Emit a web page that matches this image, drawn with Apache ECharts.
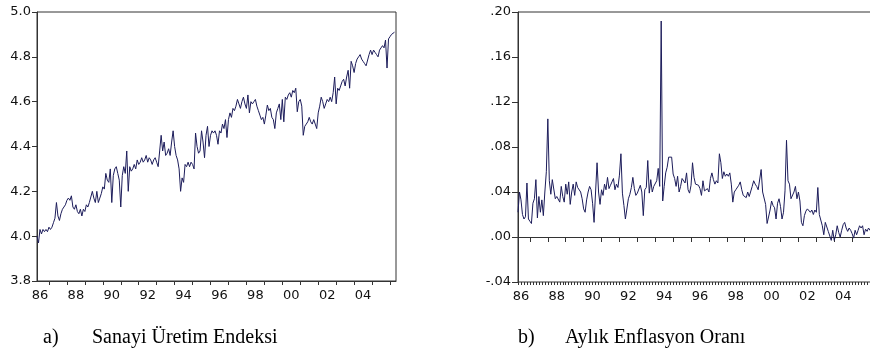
<!DOCTYPE html>
<html>
<head>
<meta charset="utf-8">
<script src="https://cdn.jsdelivr.net/npm/echarts@6.0.0/dist/echarts.min.js"></script>
<style>
  html, body { margin: 0; padding: 0; background: #fff; overflow: hidden; }
  #chart { width: 880px; height: 354px; }
</style>
</head>
<body>
<div id="chart"></div>
<script>
// aylik gozlemler (1986 - 2005), soldan saga
var yearLabels = ['86', '88', '90', '92', '94', '96', '98', '00', '02', '04'];

// a) Sanayi Uretim Endeksi (log)
var uretim = [
  4.00, 3.97, 4.03, 4.01, 4.03, 4.02, 4.03, 4.02, 4.04, 4.03, 4.04, 4.06,
  4.08, 4.15, 4.09, 4.07, 4.10, 4.12, 4.13, 4.14, 4.16, 4.17, 4.16, 4.18,
  4.13, 4.12, 4.14, 4.11, 4.10, 4.12, 4.09, 4.12, 4.11, 4.14, 4.13, 4.15,
  4.15, 4.20, 4.17, 4.15, 4.20, 4.15, 4.17, 4.19, 4.22, 4.21, 4.28, 4.25,
  4.24, 4.30, 4.15, 4.27, 4.30, 4.31, 4.28, 4.25, 4.13, 4.27, 4.31, 4.28,
  4.38, 4.20, 4.31, 4.29, 4.30, 4.32, 4.30, 4.34, 4.32, 4.33, 4.35, 4.33,
  4.34, 4.36, 4.33, 4.35, 4.34, 4.32, 4.34, 4.35, 4.33, 4.31, 4.38, 4.45,
  4.38, 4.42, 4.36, 4.37, 4.39, 4.36, 4.42, 4.47, 4.40, 4.36, 4.34, 4.30,
  4.20, 4.26, 4.24, 4.32, 4.31, 4.33, 4.31, 4.33, 4.32, 4.30, 4.46, 4.40,
  4.37, 4.38, 4.47, 4.42, 4.35, 4.45, 4.49, 4.40, 4.45, 4.47, 4.46, 4.47,
  4.45, 4.41, 4.47, 4.46, 4.50, 4.48, 4.52, 4.44, 4.52, 4.55, 4.53, 4.57,
  4.56, 4.58, 4.61, 4.59, 4.57, 4.60, 4.62, 4.59, 4.57, 4.63, 4.55, 4.60,
  4.59, 4.60, 4.61, 4.58, 4.56, 4.54, 4.52, 4.53, 4.50, 4.54, 4.585, 4.56,
  4.57, 4.53, 4.52, 4.48, 4.55, 4.57, 4.59, 4.52, 4.61, 4.51, 4.62, 4.61,
  4.63, 4.64, 4.62, 4.65, 4.64, 4.66, 4.555, 4.60, 4.61, 4.58, 4.45, 4.49,
  4.50, 4.51, 4.53, 4.51, 4.50, 4.52, 4.50, 4.48, 4.55, 4.58, 4.62, 4.60,
  4.57, 4.59, 4.61, 4.60, 4.62, 4.60, 4.64, 4.71, 4.59, 4.66, 4.65, 4.67,
  4.69, 4.70, 4.67, 4.71, 4.74, 4.66, 4.78, 4.76, 4.73, 4.77, 4.79, 4.80,
  4.81, 4.79, 4.78, 4.77, 4.76, 4.755, 4.81, 4.83, 4.81, 4.83, 4.82, 4.81,
  4.80, 4.83, 4.84, 4.85, 4.84, 4.875, 4.75, 4.88, 4.89, 4.90, 4.905, 4.91
];

// b) Aylik Enflasyon Orani
var enflasyon = [
  .022, .040, .033, .020, .016, .018, .048, .016, .014, .012, .030, .034,
  .051, .017, .036, .022, .033, .019, .040, .058, .105, .050, .038, .051,
  .050, .034, .036, .035, .031, .045, .036, .031, .047, .038, .049, .029,
  .040, .047, .037, .049, .044, .043, .040, .034, .025, .022, .033, .040,
  .045, .042, .030, .013, .040, .066, .040, .029, .042, .037, .047, .042,
  .053, .043, .046, .049, .052, .042, .047, .044, .055, .074, .039, .028,
  .016, .017, .034, .038, .044, .053, .043, .037, .039, .040, .046, .040,
  .019, .042, .044, .068, .039, .051, .040, .045, .046, .050, .061, .045,
  .192, .032, .045, .057, .062, .071, .071, .071, .056, .052, .045, .054,
  .040, .045, .052, .053, .048, .057, .042, .039, .046, .066, .053, .047,
  .046, .046, .043, .037, .050, .041, .042, .043, .040, .052, .057, .051,
  .047, .050, .048, .074, .066, .052, .058, .054, .056, .054, .057, .047,
  .031, .040, .042, .042, .046, .049, .042, .037, .037, .035, .040, .036,
  .037, .045, .050, .047, .045, .042, .041, .060, .040, .039, .029, .012,
  .011, .024, .032, .028, .026, .016, .030, .034, .027, .016, .022, .041,
  .086, .050, .047, .034, .034, .040, .045, .034, .040, .032, .013, .010,
  .019, .023, .025, .025, .022, .024, .020, .024, .022, .044, .020, .021,
  .010, .002, .013, .012, .005, .006, -.003, .006, -.003, .002, .010, .004,
  .000, .006, .011, .013, .008, .005, .008, .006, .003, -.001, .006, .002,
  .006, .010, .008, .010, .002, .007, .005, .008, .006, .009, .007, .010
];

var nMonths = 240;
var lineColor = '#1c1c5a';
var axisColor = '#333';
var axisFont = '"DejaVu Sans", Arial, sans-serif';
var titleFont = '"Times New Roman", "Liberation Serif", serif';

// yil siniri tikleri (ay indeksi), etiketler yil ortasinda
var yearTicks = [];
for (var k = 0; k * 12 + 8 <= nMonths; k++) yearTicks.push(k * 12 + 8);
var labelPos = yearLabels.map(function (s, j) { return 2 + 24 * j; });
var minorTicks = [];
for (var m = 0; m <= nMonths; m += 2) minorTicks.push(m);

function toPairs(arr) {
  return arr.map(function (v, i) { return [i, v]; });
}
function yearFmt(v) {
  return yearLabels[Math.round((v - 2) / 24)] || '';
}
function dotFmt(v) {
  var s = Math.abs(v).toFixed(2).replace(/^0/, '');
  return (v < -1e-9 ? '-' : '') + s;
}

function xAxisBase(grid, tickLen) {
  return {
    gridIndex: grid, type: 'value', position: 'bottom', min: 0, max: nMonths,
    axisLine: { show: true, lineStyle: { color: axisColor, width: 1 } },
    axisTick: { show: true, customValues: yearTicks, length: tickLen, lineStyle: { color: axisColor } },
    axisLabel: { customValues: labelPos, formatter: yearFmt, margin: 8,
      fontFamily: axisFont, fontSize: 13, color: '#111' },
    splitLine: { show: false }
  };
}

var myChart = echarts.init(document.getElementById('chart'), null, { renderer: 'canvas' });

var titleStyle = { fontFamily: titleFont, fontSize: 20, fontWeight: 'normal', color: '#000' };

var option = {
  animation: false,
  title: [
    { text: 'a)', left: 43, top: 328, padding: 0, textStyle: titleStyle },
    { text: 'Sanayi Üretim Endeksi', left: 92, top: 328, padding: 0, textStyle: titleStyle },
    { text: 'b)', left: 518, top: 328, padding: 0, textStyle: titleStyle },
    { text: 'Aylık Enflasyon Oranı', left: 565, top: 328, padding: 0, textStyle: titleStyle }
  ],
  grid: [
    { left: 37, top: 12, width: 359, height: 269, show: true, borderColor: axisColor, borderWidth: 1 },
    { left: 518, top: 12, width: 358, height: 270, show: true, borderColor: axisColor, borderWidth: 1 }
  ],
  xAxis: [
    xAxisBase(0, 4),
    xAxisBase(1, 5),
    {
      // aylik kucuk tikler
      gridIndex: 1, type: 'value', position: 'bottom', offset: 0, min: 0, max: nMonths,
      axisLine: { show: false },
      axisTick: { show: true, customValues: minorTicks, length: 3, lineStyle: { color: axisColor } },
      axisLabel: { show: false },
      splitLine: { show: false }
    }
  ],
  yAxis: [
    {
      gridIndex: 0, type: 'value', min: 3.8, max: 5.0, interval: 0.2,
      axisLine: { show: true, lineStyle: { color: axisColor } },
      axisTick: { show: true, length: 5, lineStyle: { color: axisColor } },
      axisLabel: { margin: 6, fontFamily: axisFont, fontSize: 13, color: '#111',
        formatter: function (v) { return v.toFixed(1); } },
      splitLine: { show: false }
    },
    {
      gridIndex: 1, type: 'value', min: -0.04, max: 0.20, interval: 0.04,
      axisLine: { show: true, lineStyle: { color: axisColor } },
      axisTick: { show: true, length: 6, lineStyle: { color: axisColor } },
      axisLabel: { margin: 7, fontFamily: axisFont, fontSize: 13, color: '#111', formatter: dotFmt },
      splitLine: { show: false }
    }
  ],
  series: [
    {
      name: 'Sanayi Üretim Endeksi', type: 'line', xAxisIndex: 0, yAxisIndex: 0,
      data: toPairs(uretim), showSymbol: false, symbol: 'none',
      lineStyle: { color: lineColor, width: 1 }
    },
    {
      name: 'Aylık Enflasyon Oranı', type: 'line', xAxisIndex: 1, yAxisIndex: 1,
      data: toPairs(enflasyon), showSymbol: false, symbol: 'none',
      lineStyle: { color: lineColor, width: 1 }
    }
  ]
};

myChart.setOption(option);
</script>
</body>
</html>
